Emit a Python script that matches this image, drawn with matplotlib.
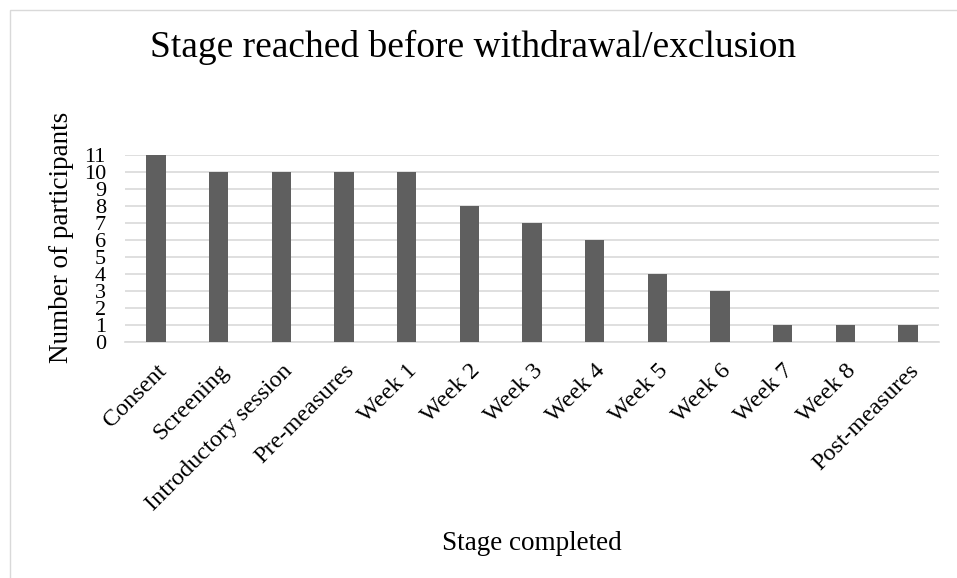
import matplotlib
matplotlib.use("Agg")
import matplotlib.pyplot as plt
from matplotlib.patches import Rectangle
from matplotlib.transforms import ScaledTranslation

categories = ["Consent", "Screening", "Introductory session", "Pre-measures", "Week 1",
              "Week 2", "Week 3", "Week 4", "Week 5", "Week 6", "Week 7", "Week 8",
              "Post-measures"]
participants = [11, 10, 10, 10, 10, 8, 7, 6, 4, 3, 1, 1, 1]
y_ticks = list(range(0, 12))

plt.rcParams['font.family'] = ['Liberation Serif', 'DejaVu Serif']

W, H = 957, 578
fig = plt.figure(figsize=(W / 100, H / 100), dpi=100)

# chart border (top and left visible)
fig.patches.append(Rectangle((10 / W, -0.1), 1.2, 1 - 10 / H + 0.1,
                             transform=fig.transFigure, fill=False,
                             edgecolor='#d9d9d9', linewidth=1.0))

left, right = 124.7, 939.3
top, bottom = 155.0, 342.3
ax = fig.add_axes([left / W, 1 - bottom / H, (right - left) / W, (bottom - top) / H])

x = range(len(categories))
ax.bar(x, participants, width=0.31, color='#5f5f5f', zorder=3)
ax.set_xlim(-0.5, len(categories) - 0.5)
ax.set_ylim(0, 11)
ax.set_yticks(y_ticks)
ax.set_yticklabels([str(v) for v in y_ticks], fontsize=16)
ax.grid(axis='y', color='#d9d9d9', linewidth=1.2, zorder=0)
ax.set_xticks(list(x))
ax.set_xticklabels(categories, rotation=45, ha='right', va='top',
                   rotation_mode='anchor', fontsize=17.5)
offset = ScaledTranslation(-1 / 100, 0, fig.dpi_scale_trans)
for lbl in ax.get_xticklabels():
    lbl.set_transform(lbl.get_transform() + offset)
ax.tick_params(axis='both', length=0)
ax.tick_params(axis='x', pad=13)
ax.tick_params(axis='y', pad=13.5)
for s in ['top', 'right', 'left']:
    ax.spines[s].set_visible(False)
ax.spines['bottom'].set_color('#d9d9d9')
ax.spines['bottom'].set_linewidth(1.2)

fig.text(473 / W, 1 - 47 / H, "Stage reached before withdrawal/exclusion",
         ha='center', va='center', fontsize=27)
fig.text(532 / W, 1 - 543 / H, "Stage completed", ha='center', va='center', fontsize=19.5)
fig.text(61 / W, 1 - 237 / H, "Number of participants", ha='center', va='center',
         rotation=90, fontsize=19.5)

fig.savefig("out.png", dpi=100, facecolor='white')
